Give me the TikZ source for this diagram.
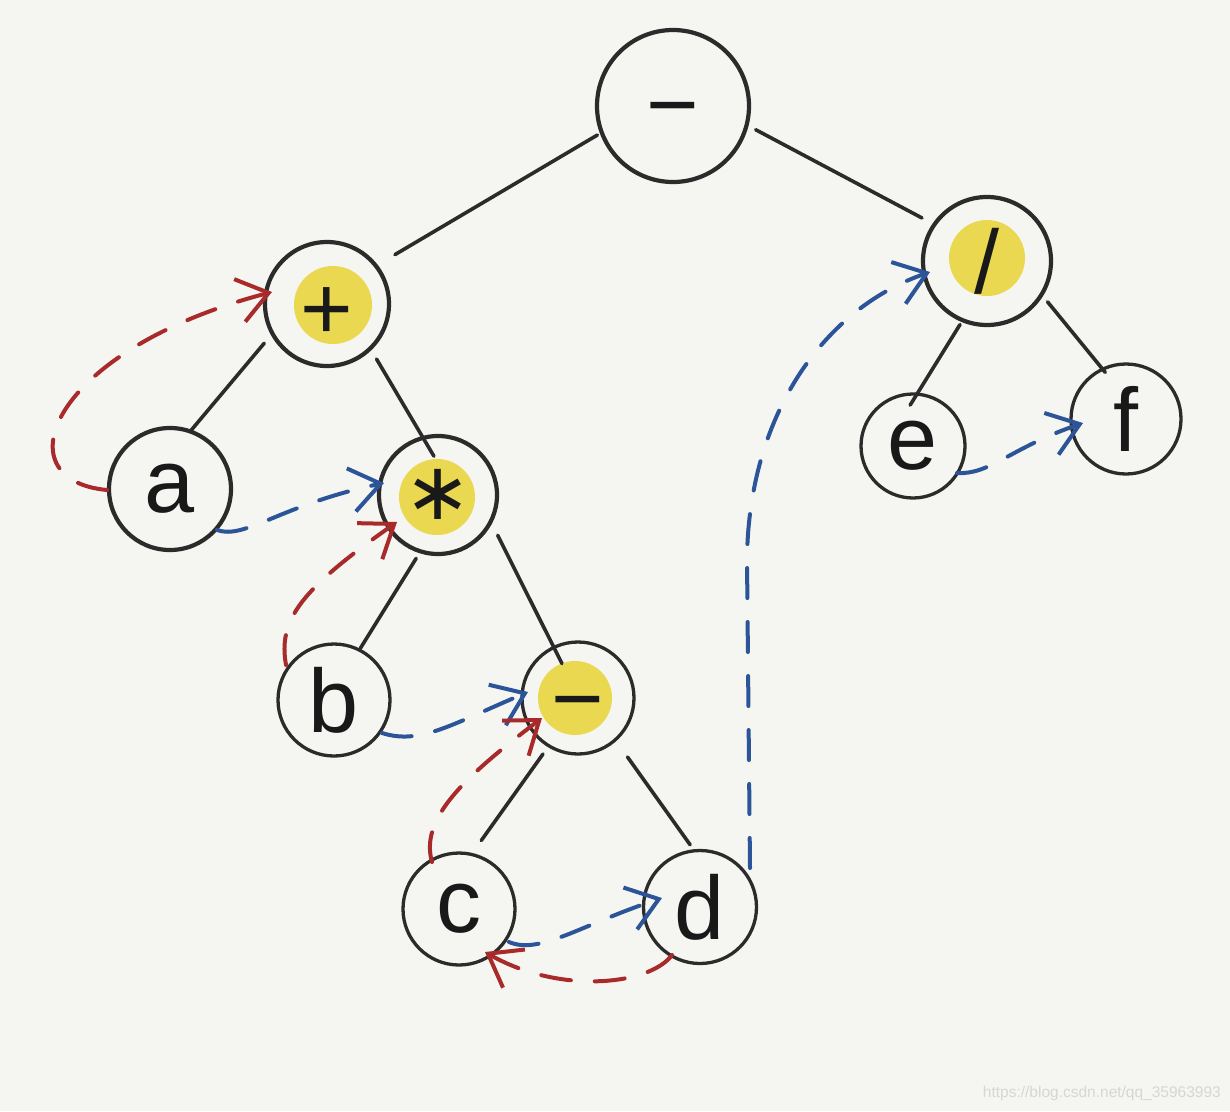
\documentclass[tikz,border=0pt]{standalone}
\usepackage{fontspec}
\setmainfont{Liberation Sans}
\newfontfamily\dejavu{DejaVu Sans}
\usetikzlibrary{arrows.meta,calc}
\definecolor{bg}{RGB}{245,246,241}
\definecolor{ring}{RGB}{43,43,43}
\definecolor{ink}{RGB}{25,25,25}
\definecolor{hl}{RGB}{234,216,80}
\definecolor{arrred}{RGB}{168,42,42}
\definecolor{arrblue}{RGB}{44,84,152}
\definecolor{wm}{RGB}{214,214,210}
\newcommand{\ctrglyph}[2]{\smash{\raisebox{-#1}{#2}}}
\begin{document}
\begin{tikzpicture}[x=1pt,y=1pt,
  nd/.style={circle, draw=ring, inner sep=0pt, text=ink, font=\fontsize{90}{96}\selectfont},
  big/.style={line width=4.2pt},
  small/.style={line width=3.3pt},
  edge/.style={draw=ring, line width=3.6pt, line cap=round},
  tipV/.style={-{Straight Barb[length=30pt,width=44pt,line width=4pt]}},
  redarr/.style={draw=arrred, line width=4pt, line cap=round, dash pattern=on 30pt off 24pt, tipV},
  bluearr/.style={draw=arrblue, line width=4pt, line cap=round, dash pattern=on 30pt off 24pt, tipV}]
\useasboundingbox (0,0) rectangle (1230,-1111);
\fill[bg] (0,0) rectangle (1230,-1111);
% highlights
\fill[hl] (333,-305) circle (39);
\fill[hl] (437,-497) circle (38);
\fill[hl] (575,-698) circle (37);
\fill[hl] (987,-258) circle (38);
% nodes
\node[nd,big,minimum size=152pt] (root) at (673,-106) {\ctrglyph{0.33em}{−}};
\node[nd,big,minimum size=124pt] (plus) at (327,-304) {\ctrglyph{0.39em}{+}};
\node[nd,big,minimum size=128pt] (div) at (987,-261) {/};
\node[nd,big,minimum size=122pt] (a) at (170,-489) {a};
\node[nd,big,minimum size=118pt] (star) at (438,-495) {\dejavu\fontsize{80}{80}\selectfont\ctrglyph{0.30em}{∗}};
\node[nd,small,minimum size=104pt] (e) at (913,-446) {e};
\node[nd,small,minimum size=110pt] (f) at (1126,-419) {f};
\node[nd,small,minimum size=112pt] (b) at (334,-700) {b};
\node[nd,small,minimum size=112pt] (m) at (578,-698) {\ctrglyph{0.35em}{−}};
\node[nd,small,minimum size=112pt] (c) at (459,-909) {c};
\node[nd,small,minimum size=113pt] (d) at (700,-907) {d};
% tree edges
\draw[edge] ($(root)+(201:81)$) -- ($(plus)+(36:84)$);
\draw[edge] ($(root)+(-16:86)$) -- ($(div)+(146.5:78)$);
\draw[edge] ($(plus)+(212:74)$) -- ($(a)+(70:63)$);
\draw[edge] ($(plus)+(-48:74)$) -- ($(star)+(96:39)$);
\draw[edge] ($(star)+(251:67)$) -- ($(b)+(63:58)$);
\draw[edge] ($(star)+(-34:72)$) -- ($(m)+(115:38)$);
\draw[edge] ($(m)+(238:66)$) -- ($(c)+(72:72)$);
\draw[edge] ($(m)+(-50:77)$) -- ($(d)+(99:63)$);
\draw[edge] ($(div)+(247:69)$) -- ($(e)+(94:41)$);
\draw[edge] ($(div)+(-34:73)$) -- ($(f)+(114:51)$);
% traversal arrows
\draw[redarr] ($(a)+(-63,-1)$) .. controls (0,-480) and (50,-350) .. ($(plus)+(-55,12)$);
\draw[bluearr] ($(a)+(47,-41)$) .. controls (245,-540) and (280,-505) .. ($(star)+(-54,12)$);
\draw[redarr] ($(b)+(-48,35)$) .. controls (278,-620) and (300,-590) .. ($(star)+(-41,-27)$);
\draw[bluearr] ($(b)+(48,-33)$) .. controls (420,-745) and (450,-725) .. ($(m)+(-50,6)$);
\draw[redarr] ($(c)+(-27,47)$) .. controls (420,-820) and (460,-780) .. ($(m)+(-36,-20)$);
\draw[bluearr] ($(c)+(50,-33)$) .. controls (540,-955) and (580,-925) .. ($(d)+(-38,9)$);
\draw[redarr] ($(d)+(-28,-48)$) .. controls (650,-985) and (560,-995) .. ($(c)+(26,-43)$);
\draw[bluearr] ($(d)+(50,39)$) -- (747,-560) .. controls (748,-420) and (820,-310) .. ($(div)+(-57,-11)$);
\draw[bluearr] ($(e)+(44,-27)$) .. controls (990,-475) and (1010,-448) .. ($(f)+(-43,-4)$);
% watermark
\node[anchor=east, inner sep=0pt, text=wm, font=\fontsize{15.5}{18}\selectfont] (wmark) at (1221,-1093) {https://blog.csdn.net/qq\_35963993};
\end{tikzpicture}
\end{document}
